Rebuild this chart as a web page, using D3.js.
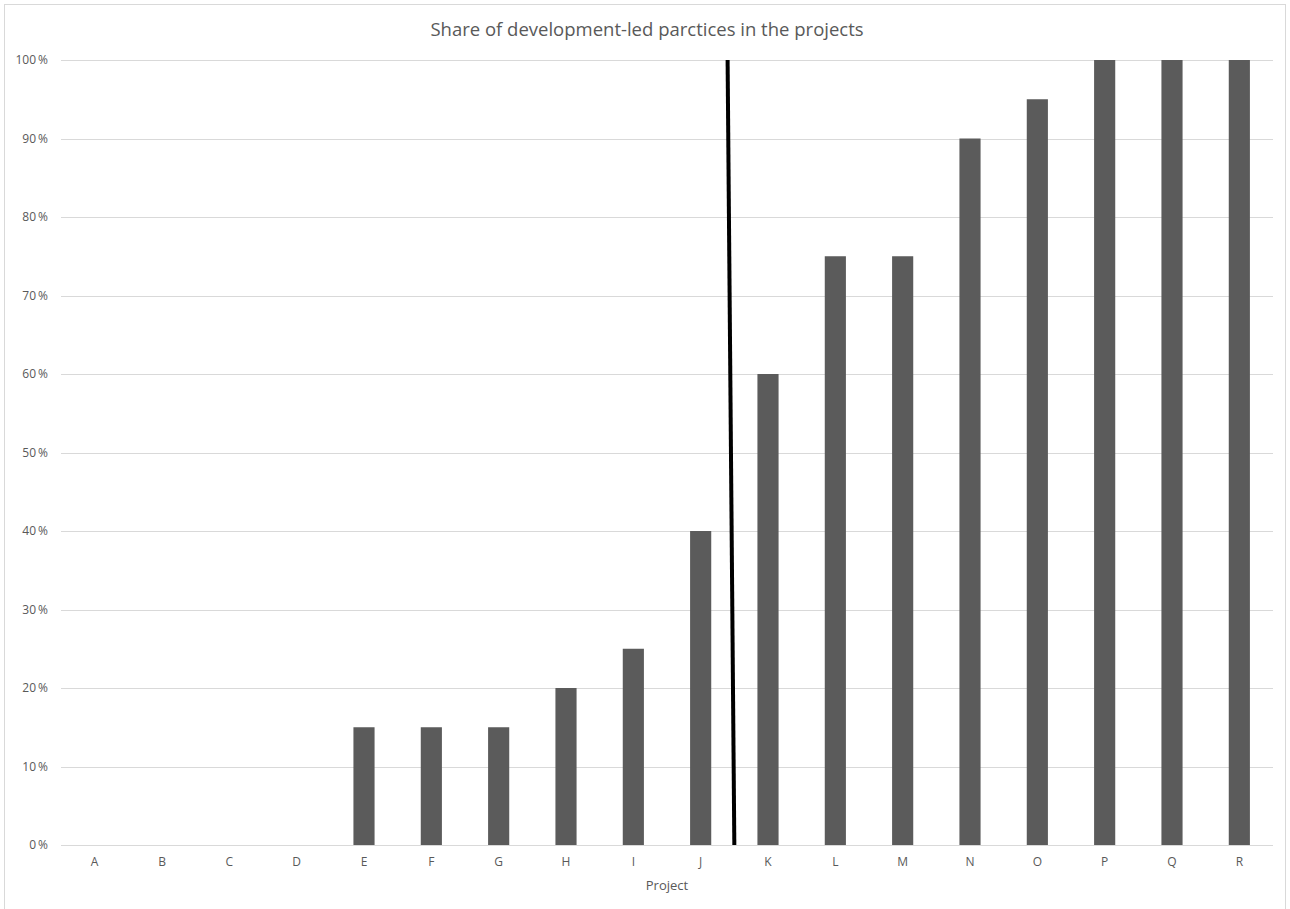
<!DOCTYPE html>
<html>
<head>
<meta charset="utf-8">
<script src="https://cdn.jsdelivr.net/npm/d3@7"></script>
<style>
  html, body { margin: 0; padding: 0; background: #fff; }
  svg { display: block; font-family: "Open Sans", "Liberation Sans", sans-serif; }
</style>
</head>
<body>
<svg id="chart" width="1290" height="909"></svg>
<script>
// Projects and their share of development-led practices (percent)
const projects = ["A","B","C","D","E","F","G","H","I","J","K","L","M","N","O","P","Q","R"];
const shares = [0, 0, 0, 0, 15, 15, 15, 20, 25, 40, 60, 75, 75, 90, 95, 100, 100, 100];
const yTicks = [0, 10, 20, 30, 40, 50, 60, 70, 80, 90, 100];
// Divider between J and K, given in category units (top is slightly left of the gap)
const dividerTop = { pos: 9.9, value: 100 };
const dividerBottom = { pos: 10.0, value: 0 };

const svg = d3.select("#chart");
const W = 1290, H = 909;
const margin = { left: 61, right: 17, top: 60, bottom: 64 };

// outer frame
svg.append("rect")
  .attr("x", 4.5).attr("y", 4.5)
  .attr("width", 1281).attr("height", H + 20)
  .attr("fill", "#fff").attr("stroke", "#d9d9d9").attr("stroke-width", 1);

const x = d3.scaleBand()
  .domain(projects)
  .range([margin.left, W - margin.right])
  .paddingInner(0.686)
  .paddingOuter(0.343);

const xIdx = d3.scaleLinear()
  .domain([0, projects.length])
  .range([margin.left, W - margin.right]);

const y = d3.scaleLinear()
  .domain([0, 100])
  .range([H - margin.bottom, margin.top]);

// gridlines
svg.append("g")
  .selectAll("line")
  .data(yTicks)
  .join("line")
  .attr("x1", margin.left).attr("x2", W - margin.right)
  .attr("y1", d => Math.round(y(d)) + 0.5).attr("y2", d => Math.round(y(d)) + 0.5)
  .attr("stroke", "#d9d9d9").attr("stroke-width", 1);

// y axis labels
const yAxis = d3.axisLeft(y).tickValues(yTicks).tickSize(0).tickPadding(0)
  .tickFormat(d => d + "\u2009%");
svg.append("g")
  .attr("transform", `translate(${margin.left - 13},0)`)
  .call(yAxis)
  .call(g => g.select(".domain").remove())
  .call(g => g.selectAll("text")
    .attr("fill", "#595959").attr("font-size", 12)
    .attr("font-family", "'Open Sans', sans-serif"));

// bars
svg.append("g")
  .selectAll("rect")
  .data(projects.map((p, i) => ({ p, v: shares[i] })))
  .join("rect")
  .attr("x", d => x(d.p))
  .attr("width", x.bandwidth())
  .attr("y", d => y(d.v))
  .attr("height", d => y(0) - y(d.v))
  .attr("fill", "#5b5b5b");

// x axis labels
const xAxis = d3.axisBottom(x).tickSize(0).tickPadding(0);
svg.append("g")
  .attr("transform", `translate(0,${y(0) + 12})`)
  .call(xAxis)
  .call(g => g.select(".domain").remove())
  .call(g => g.selectAll("text")
    .attr("fill", "#595959").attr("font-size", 12)
    .attr("font-family", "'Open Sans', sans-serif"));

// divider line
svg.append("line")
  .attr("x1", xIdx(dividerTop.pos)).attr("y1", y(dividerTop.value))
  .attr("x2", xIdx(dividerBottom.pos)).attr("y2", y(dividerBottom.value))
  .attr("stroke", "#000").attr("stroke-width", 4);

// title
svg.append("text")
  .attr("x", W / 2 + 2).attr("y", 36)
  .attr("text-anchor", "middle")
  .attr("fill", "#595959").attr("font-size", 18.5)
  .text("Share of development-led  parctices in the projects");

// x axis title
svg.append("text")
  .attr("x", (margin.left + W - margin.right) / 2).attr("y", 890)
  .attr("text-anchor", "middle")
  .attr("fill", "#595959").attr("font-size", 13)
  .text("Project");
</script>
</body>
</html>
